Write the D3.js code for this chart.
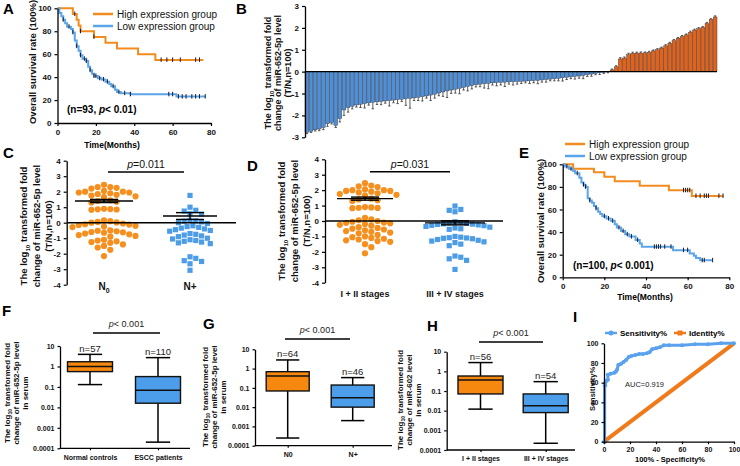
<!DOCTYPE html>
<html>
<head>
<meta charset="utf-8">
<script src="https://cdn.jsdelivr.net/npm/d3@7"></script>
<style>
  body { margin: 0; background: #fff; }
  text { font-family: Arial, "Liberation Sans", sans-serif; }
</style>
</head>
<body>
<svg id="fig" width="740" height="466"></svg>
<script>
// ---------- data ----------
// A: Kaplan-Meier, n=93  [time, survival%]
var kmAHigh = [[0,100],[8,95],[10,90],[11,85],[12,80],[19,75],[25,70],[31,65],[42,60],[51,55],[76,55]];
var kmAHighCens = [9, 12, 19, 54, 57, 60, 64, 72, 74];
var kmALow = [[0,100],[1,96],[2,93],[3,90],[4,87],[5,84],[7,82],[8,79],[9,72],[10,67],[11,63],[12,59],[13,56],[15,54],[16,49],[17,46],[18,43],[19,41],[21,39],[23,38],[25,36],[27,34],[28,32],[30,29],[31,27],[33,26],[38,25],[62,23],[77,23]];
var kmALowCens = [3, 6, 8, 10, 12, 14, 15, 17, 19, 20, 22, 24, 26, 29, 32, 35, 38, 58, 60, 63, 65, 67, 70, 72, 74, 77];

// E: Kaplan-Meier, n=100
var kmEHigh = [[0,100],[5,96],[15,93],[20,89],[25,85],[37,81],[51,77],[62,72],[77,72]];
var kmEHighCens = [58, 59, 60, 61, 64, 66, 68, 69, 70, 75, 77];
var kmELow = [[0,100],[1,98],[3,96],[5,94],[6,92],[8,88],[9,84],[10,82],[11,80],[12,70],[13,68],[14,66],[15,63],[16,61],[17,58],[18,56],[19,54],[21,52],[23,50],[25,47],[26,44],[28,41],[30,38],[32,36],[35,33],[37,30],[38,27],[53,24],[61,21],[63,19],[64,17],[66,15],[72,15]];
var kmELowCens = [2, 4, 7, 10, 11, 13, 16, 20, 22, 24, 27, 29, 31, 33, 36, 44, 45, 46, 47, 49, 52, 58, 60, 67, 68, 72];

// B: log10 fold change per patient (sorted), and error
var barVals = [-2.78,-2.72,-2.66,-2.62,-2.55,-2.38,-2.32,-2.45,-2.15,-1.75,-1.65,-1.58,-1.52,-1.49,-1.46,-1.43,-1.4,-1.38,-1.36,-1.34,
  -1.32,-1.3,-1.28,-1.26,-1.24,-1.22,-1.2,-1.17,-1.14,-1.11,-1.07,-1.03,-0.98,-0.93,-0.88,-0.84,-0.8,-0.76,-0.72,-0.68,
  -0.64,-0.6,-0.57,-0.55,-0.53,-0.51,-0.5,-0.49,-0.48,-0.47,-0.46,-0.45,-0.44,-0.43,-0.42,-0.41,-0.4,-0.38,-0.36,-0.34,
  -0.32,-0.3,-0.28,-0.26,-0.24,-0.22,-0.2,-0.17,-0.14,-0.11,-0.08,-0.05,-0.03,-0.01,
  0.08,0.22,0.58,0.62,0.78,0.84,0.85,0.85,0.86,0.88,0.95,1.0,1.08,1.18,1.3,1.42,1.52,1.6,1.68,1.8,1.9,1.96,2.02,2.2,2.38,2.5];
var barErr = [0.05,0.06,0.05,0.08,0.1,0.12,0.07,0.1,0.15,0.25,0.2,0.12,0.1,0.15,0.2,0.1,0.3,0.12,0.15,0.1,
  0.25,0.12,0.18,0.1,0.3,0.45,0.12,0.15,0.2,0.1,0.25,0.18,0.12,0.2,0.3,0.15,0.18,0.25,0.12,0.2,
  0.15,0.1,0.12,0.2,0.25,0.1,0.15,0.12,0.2,0.1,0.15,0.12,0.1,0.08,0.12,0.1,0.15,0.1,0.12,0.08,
  0.1,0.12,0.15,0.1,0.08,0.12,0.1,0.15,0.08,0.1,0.06,0.08,0.05,0.04,
  0.04,0.05,0.06,0.05,0.06,0.05,0.04,0.05,0.04,0.05,0.04,0.05,0.04,0.05,0.04,0.05,0.04,0.05,0.04,0.05,0.04,0.05,0.04,0.05,0.04,0.05];

// C: by lymph node status
var cGroups = ['N0', 'N+'];
var cN0 = [2.45,2.3,2.3,2.25,2.2,2.05,2.0,2.0,1.95,1.95,1.9,1.85,1.8,1.75,1.7,1.65,1.45,1.4,1.35,1.3,0.9,0.88,0.86,0.85,0.83,
  0.15,0.1,0.05,0.02,0.0,-0.05,-0.1,-0.12,-0.15,-0.2,-0.25,-0.28,-0.5,-0.52,-0.55,-0.6,-0.62,-0.65,-0.7,-0.75,-0.8,-0.85,-0.9,
  -1.1,-1.15,-1.2,-1.25,-1.3,-1.4,-1.5,-1.6,-1.75,-2.15];
var cNPlus = [1.76,1.0,0.8,0.75,0.58,0.55,0.15,0.12,0.1,0.05,0.0,-0.05,-0.2,-0.25,-0.3,-0.35,-0.4,-0.45,-0.5,-0.55,
  -0.7,-0.75,-0.8,-0.85,-0.9,-1.0,-1.05,-1.1,-1.15,-1.2,-1.25,-1.3,-1.35,-2.2,-2.3,-2.45,-2.5,-2.65,-3.07];
var cMean = [1.4, 0.43];
var cSem = [0.1, 0.22];

// D: by TNM stage
var dGroups = ['I + II stages', 'III + IV stages'];
var dEarly = [2.45,2.3,2.25,2.2,2.05,2.0,2.0,1.95,1.95,1.9,1.85,1.8,1.75,1.7,1.65,1.45,1.4,1.35,1.3,0.9,0.88,0.86,0.85,0.83,
  0.2,0.1,0.05,0.0,-0.05,-0.1,-0.12,-0.15,-0.2,-0.25,-0.3,-0.4,-0.45,-0.5,-0.55,-0.6,-0.65,-0.7,-0.75,-0.8,-0.9,
  -1.0,-1.05,-1.1,-1.15,-1.2,-1.25,-1.3,-1.35,-1.5,-1.7,-2.1];
var dLate = [0.97,0.75,0.69,0.6,-0.05,-0.1,-0.12,-0.15,-0.18,-0.2,-0.22,-0.25,-0.28,-0.3,-0.35,-0.4,-0.45,-0.5,-0.54,
  -1.0,-1.05,-1.08,-1.1,-1.12,-1.15,-1.2,-1.25,-1.3,-1.35,-1.4,-1.5,-1.6,-2.27,-2.35,-2.45,-2.55,-3.14];
var dMean = [1.45, -0.12];
var dSem = [0.1, 0.13];

// F, G, H: serum box plots  [min, q1, median, q3, max]
var fGroups = ['Normal controls', 'ESCC patients'];
var fN = [57, 110];
var fStats = [[0.13, 0.56, 1.0, 1.7, 3.9], [0.0002, 0.016, 0.069, 0.32, 2.7]];
var gGroups = ['N0', 'N+'];
var gN = [64, 46];
var gStats = [[0.00025, 0.069, 0.41, 0.69, 2.8], [0.002, 0.01, 0.031, 0.14, 0.34]];
var hGroups = ['I + II stages', 'III + IV stages'];
var hN = [56, 54];
var hStats = [[0.012, 0.071, 0.36, 0.58, 2.8], [0.00022, 0.008, 0.018, 0.071, 0.30]];
var logTicks = [0.0001, 0.001, 0.01, 0.1, 1, 10];

// I: ROC
var rocX = [0,0.5,0.5,1,1,2,3,3,5,8,9,10,11,13,15,17,19,21,24,27,30,33,35,37,40,43,46,50,60,70,80,90,100];
var rocY = [0,0,57,57,60,62,63,68,69,70,71,73,78,79,81,83,86,87,88,89,89,90,91,94,95,96,98,98,98,99,99,100,100];
var identX = [0, 100];
var identY = [0, 100];

// ---------- colours ----------
var ORANGE = '#f28c1e', BLUE = '#5ba5ea';
var BAR_OR = '#e2621c', BAR_BL = '#4f8fd8';
var DOT_OR = '#f5901f', DOT_BL = '#4d9de6';

var svg = d3.select('#fig');
svg.append('rect').attr('width', 740).attr('height', 466).attr('fill', '#fff');

// plain hyphen minus, like the original figure
var plain = function(d) { return String(d); };

function styleAxis(g, fs) {
  g.attr('font-family', null).attr('font-size', null);
  g.select('.domain').attr('stroke', '#000').attr('stroke-width', 1.3);
  g.selectAll('.tick line').attr('stroke', '#000').attr('stroke-width', 1.2);
  g.selectAll('.tick text').attr('font-size', fs).attr('font-weight', 'bold').attr('fill', '#111');
}

function letter(t, x, y) {
  svg.append('text').attr('x', x).attr('y', y).attr('font-size', 15).attr('font-weight', 'bold').text(t);
}

// rotated label, '_' toggles subscript
function rotLabel(lines, xs, cy, fs, weight) {
  lines.forEach(function(line, i) {
    var t = svg.append('text')
      .attr('transform', 'translate(' + xs[i] + ',' + cy + ') rotate(-90)')
      .attr('text-anchor', 'middle').attr('font-size', fs)
      .attr('font-weight', weight || 'bold').attr('fill', '#111');
    var parts = line.split('_');
    var shift = 0;
    parts.forEach(function(p, k) {
      if (!p.length) return;
      var sub = k % 2 === 1;
      var target = sub ? fs * 0.3 : 0;
      t.append('tspan').attr('dy', target - shift).attr('font-size', sub ? fs * 0.65 : fs).text(p);
      shift = target;
    });
  });
}

function stepAt(pts, t) {
  var s = pts[0][1];
  pts.forEach(function(p) { if (p[0] <= t) s = p[1]; });
  return s;
}

// ---------- Kaplan-Meier panels ----------
function kmPanel(cfg) {
  var x = d3.scaleLinear().domain([0, 80]).range([cfg.x0, cfg.x1]);
  var y = d3.scaleLinear().domain([0, 100]).range([cfg.yb, cfg.yt]);
  var g = svg.append('g');
  var line = d3.line().x(function(d) { return x(d[0]); }).y(function(d) { return y(d[1]); }).curve(d3.curveStepAfter);
  cfg.series.forEach(function(s) {
    g.append('path').datum(s.pts).attr('d', line).attr('fill', 'none')
      .attr('stroke', s.color).attr('stroke-width', 2);
    s.cens.forEach(function(t) {
      var v = stepAt(s.pts, t);
      g.append('line').attr('x1', x(t)).attr('x2', x(t)).attr('y1', y(v) - 2.5).attr('y2', y(v) + 2)
        .attr('stroke', '#1a1a2a').attr('stroke-width', 1);
    });
  });
  var ax = g.append('g').attr('transform', 'translate(0,' + cfg.yb + ')')
    .call(d3.axisBottom(x).tickValues([0, 20, 40, 60, 80]).tickFormat(plain).tickSize(3).tickSizeOuter(0));
  styleAxis(ax, 8);
  var ay = g.append('g').attr('transform', 'translate(' + cfg.x0 + ',0)')
    .call(d3.axisLeft(y).tickValues([0, 20, 40, 60, 80, 100]).tickFormat(plain).tickSize(3).tickSizeOuter(0));
  styleAxis(ay, 8);
  // legend
  cfg.series.forEach(function(s, i) {
    var ly = cfg.legY + i * 12;
    g.append('line').attr('x1', cfg.legX).attr('x2', cfg.legX + 20).attr('y1', ly).attr('y2', ly)
      .attr('stroke', s.color).attr('stroke-width', 2.5);
    g.append('text').attr('x', cfg.legX + 24).attr('y', ly + 3.5).attr('font-size', 10).attr('fill', '#111').text(s.name);
  });
  var ann = g.append('text').attr('x', cfg.annX).attr('y', cfg.annY).attr('font-size', 10)
    .attr('font-family', '"Liberation Serif", "Times New Roman", serif').attr('font-weight', 'bold');
  ann.append('tspan').text(cfg.annText[0]);
  ann.append('tspan').attr('font-style', 'italic').text('p');
  ann.append('tspan').text(cfg.annText[1]);
  g.append('text').attr('x', cfg.tx).attr('y', cfg.ty).attr('text-anchor', 'middle')
    .attr('font-size', 8.5).attr('font-weight', 'bold').text('Time(Months)');
  rotLabel(['Overall survival rate (100%)'], [cfg.ylx], cfg.yly, 9.5, 'bold');
}

kmPanel({
  x0: 57.5, x1: 211, yb: 123, yt: 8.3,
  series: [
    { name: 'High expression group', pts: kmAHigh, cens: kmAHighCens, color: ORANGE },
    { name: 'Low expression group', pts: kmALow, cens: kmALowCens, color: BLUE }
  ],
  legX: 93, legY: 14, annX: 67, annY: 113, annText: ['(n=93, ', '< 0.01)'],
  tx: 112, ty: 148, ylx: 36, yly: 62
});

kmPanel({
  x0: 562.7, x1: 729.3, yb: 277.3, yt: 164.3,
  series: [
    { name: 'High expression group', pts: kmEHigh, cens: kmEHighCens, color: ORANGE },
    { name: 'Low expression group', pts: kmELow, cens: kmELowCens, color: BLUE }
  ],
  legX: 565, legY: 144, annX: 573, annY: 269, annText: ['(n=100, ', '< 0.001)'],
  tx: 645, ty: 300, ylx: 544, yly: 221
});

// ---------- B: waterfall bars ----------
(function() {
  var x = d3.scaleBand().domain(d3.range(barVals.length)).range([305, 717]).paddingInner(0.1);
  var y = d3.scaleLinear().domain([-3, 3]).range([137.3, 6]);
  var g = svg.append('g');
  function tip(d, i) { return y(d + (d < 0 ? -barErr[i] : barErr[i])); }
  function mid(d, i) { return x(i) + x.bandwidth() / 2; }
  g.selectAll('line.err').data(barVals).enter().append('line')
    .attr('x1', mid).attr('x2', mid)
    .attr('y1', function(d) { return y(d); }).attr('y2', tip)
    .attr('stroke', '#333').attr('stroke-width', 0.8);
  g.selectAll('line.cap').data(barVals).enter().append('line')
    .attr('x1', function(d, i) { return mid(d, i) - 1.2; })
    .attr('x2', function(d, i) { return mid(d, i) + 1.2; })
    .attr('y1', tip).attr('y2', tip)
    .attr('stroke', '#333').attr('stroke-width', 0.8);
  g.selectAll('rect').data(barVals).enter().append('rect')
    .attr('x', function(d, i) { return x(i); })
    .attr('width', x.bandwidth())
    .attr('y', function(d) { return y(Math.max(0, d)); })
    .attr('height', function(d) { return Math.abs(y(d) - y(0)); })
    .attr('fill', function(d) { return d < 0 ? BAR_BL : BAR_OR; })
    .attr('stroke', '#2a2a2a').attr('stroke-width', 0.4);
  g.append('line').attr('x1', 305).attr('x2', 717).attr('y1', y(0)).attr('y2', y(0))
    .attr('stroke', '#000').attr('stroke-width', 1.2);
  var ay = g.append('g').attr('transform', 'translate(305,0)')
    .call(d3.axisLeft(y).tickValues([-3, -2, -1, 0, 1, 2, 3]).tickFormat(plain).tickSize(3).tickSizeOuter(0));
  styleAxis(ay, 8);
  rotLabel(['The log_10_ transformed fold', 'change of miR-652-5p level', '(T/N,n=100)'], [271, 281, 291], 73, 9);
})();

// ---------- C, D: scatter with mean ± SEM ----------
function swarm(vals, cx, y, d) {
  var placed = [];
  vals.slice().sort(function(a, b) { return b - a; }).forEach(function(v) {
    var py = y(v);
    for (var k = 0; k < 80; k++) {
      var off = (k % 2 ? 1 : -1) * Math.ceil(k / 2) * d * 0.5;
      var px = cx + off;
      var ok = placed.every(function(p) { return (p.x - px) * (p.x - px) + (p.y - py) * (p.y - py) >= d * d * 0.92; });
      if (ok) { placed.push({ x: px, y: py }); break; }
    }
  });
  return placed;
}

function scatterPanel(cfg) {
  var x = d3.scalePoint().domain(cfg.groups).range(cfg.centers);
  var y = d3.scaleLinear().domain([-4, 4]).range([cfg.yb, cfg.yt]);
  var g = svg.append('g');
  var p0 = swarm(cfg.vals[0], x(cfg.groups[0]), y, 6.3);
  g.selectAll('circle').data(p0).enter().append('circle')
    .attr('cx', function(d) { return d.x; }).attr('cy', function(d) { return d.y; })
    .attr('r', 3.1).attr('fill', DOT_OR);
  var p1 = swarm(cfg.vals[1], x(cfg.groups[1]), y, 5.8);
  g.selectAll('rect.sq').data(p1).enter().append('rect')
    .attr('x', function(d) { return d.x - 2.6; }).attr('y', function(d) { return d.y - 2.6; })
    .attr('width', 5.2).attr('height', 5.2).attr('fill', DOT_BL);
  // zero line
  g.append('line').attr('x1', cfg.axisX).attr('x2', cfg.zeroEnd).attr('y1', y(0)).attr('y2', y(0))
    .attr('stroke', '#000').attr('stroke-width', 1.4);
  // mean and SEM
  cfg.groups.forEach(function(gr, i) {
    var cx = x(gr);
    g.append('line').attr('x1', cx - cfg.meanW[i]).attr('x2', cx + cfg.meanW[i])
      .attr('y1', y(cfg.mean[i])).attr('y2', y(cfg.mean[i])).attr('stroke', '#000').attr('stroke-width', 1.4);
    g.append('line').attr('x1', cx).attr('x2', cx)
      .attr('y1', y(cfg.mean[i] - cfg.sem[i])).attr('y2', y(cfg.mean[i] + cfg.sem[i]))
      .attr('stroke', '#000').attr('stroke-width', 1.4);
    [-1, 1].forEach(function(s) {
      var v = cfg.mean[i] + s * cfg.sem[i];
      g.append('line').attr('x1', cx - 14).attr('x2', cx + 14).attr('y1', y(v)).attr('y2', y(v))
        .attr('stroke', '#000').attr('stroke-width', 1.4);
    });
  });
  var ay = g.append('g').attr('transform', 'translate(' + cfg.axisX + ',0)')
    .call(d3.axisLeft(y).tickValues(d3.range(-4, 5)).tickFormat(plain).tickSize(3).tickSizeOuter(0));
  styleAxis(ay, 8);
  // group labels
  cfg.groups.forEach(function(gr, i) {
    var t = g.append('text').attr('x', x(gr)).attr('y', cfg.labY).attr('text-anchor', 'middle')
      .attr('font-size', cfg.labFs).attr('font-weight', 'bold').attr('fill', '#111');
    if (cfg.subLabel && i === 0) {
      t.append('tspan').text('N');
      t.append('tspan').attr('font-size', cfg.labFs * 0.7).attr('dy', 3).text('0');
    } else {
      t.text(gr);
    }
  });
  // significance bar
  g.append('line').attr('x1', cfg.pBar[0]).attr('x2', cfg.pBar[1]).attr('y1', cfg.pBar[2]).attr('y2', cfg.pBar[2])
    .attr('stroke', '#000').attr('stroke-width', 1.4);
  var pt = g.append('text').attr('x', (cfg.pBar[0] + cfg.pBar[1]) / 2).attr('y', cfg.pBar[2] - 4)
    .attr('text-anchor', 'middle').attr('font-size', 10.5).attr('fill', '#111');
  pt.append('tspan').attr('font-style', 'italic').text('p');
  pt.append('tspan').text(cfg.pText);
  rotLabel(['The log_10_ transformed fold', 'change of miR-652-5p level', '(T/N,n=100)'], cfg.ylx, cfg.yly, 9.5);
}

scatterPanel({
  groups: cGroups, vals: [cN0, cNPlus], centers: [104, 190], yb: 284.7, yt: 160.7,
  axisX: 66.7, zeroEnd: 236, mean: cMean, sem: cSem, meanW: [29, 27],
  labY: 290, labFs: 10, subLabel: true, pBar: [108, 184, 172], pText: '=0.011',
  ylx: [27, 40, 52], yly: 226
});

scatterPanel({
  groups: dGroups, vals: [dEarly, dLate], centers: [365, 455], yb: 282.7, yt: 159.3,
  axisX: 325, zeroEnd: 503, mean: dMean, sem: dSem, meanW: [28, 30],
  labY: 297, labFs: 9, subLabel: false, pBar: [370, 450, 171.7], pText: '=0.031',
  ylx: [285, 298, 310], yly: 221
});

// ---------- F, G, H: box plots on log scale ----------
function boxPanel(cfg) {
  var x = d3.scalePoint().domain(cfg.groups).range(cfg.centers);
  var y = d3.scaleLog().domain([0.0001, 10]).range([cfg.yb, cfg.yt]);
  var g = svg.append('g');
  var w = cfg.boxW;
  cfg.groups.forEach(function(gr, i) {
    var s = cfg.stats[i], cx = x(gr);
    g.append('line').attr('x1', cx).attr('x2', cx).attr('y1', y(s[0])).attr('y2', y(s[4]))
      .attr('stroke', '#000').attr('stroke-width', 1.5);
    [s[0], s[4]].forEach(function(v) {
      g.append('line').attr('x1', cx - w * 0.27).attr('x2', cx + w * 0.27).attr('y1', y(v)).attr('y2', y(v))
        .attr('stroke', '#000').attr('stroke-width', 1.5);
    });
    g.append('rect').attr('x', cx - w / 2).attr('width', w).attr('y', y(s[3])).attr('height', y(s[1]) - y(s[3]))
      .attr('fill', i === 0 ? '#f7880f' : '#4c9eea').attr('stroke', '#111').attr('stroke-width', 1.4);
    g.append('line').attr('x1', cx - w / 2).attr('x2', cx + w / 2).attr('y1', y(s[2])).attr('y2', y(s[2]))
      .attr('stroke', '#111').attr('stroke-width', 1.5);
    g.append('text').attr('x', cx).attr('y', y(s[4]) - 2.5).attr('text-anchor', 'middle')
      .attr('font-size', 9.5).attr('fill', '#222').text('n=' + cfg.n[i]);
  });
  var ax = g.append('g').attr('transform', 'translate(0,' + cfg.yb + ')')
    .call(d3.axisBottom(x).tickSize(2).tickSizeOuter(0));
  ax.select('.domain').attr('d', 'M' + cfg.axisX + ',0H' + cfg.xEnd);
  styleAxis(ax, 7);
  ax.selectAll('.tick text').attr('dy', '0.9em');
  var ay = g.append('g').attr('transform', 'translate(' + cfg.axisX + ',0)')
    .call(d3.axisLeft(y).tickValues(logTicks).tickFormat(d3.format('~g')).tickSize(2.5).tickSizeOuter(0));
  styleAxis(ay, 7);
  g.append('line').attr('x1', cfg.pBar[0]).attr('x2', cfg.pBar[1]).attr('y1', cfg.pBar[2]).attr('y2', cfg.pBar[2])
    .attr('stroke', '#000').attr('stroke-width', 1.4);
  var pt = g.append('text').attr('x', (cfg.pBar[0] + cfg.pBar[1]) / 2).attr('y', cfg.pBar[2] - 6)
    .attr('text-anchor', 'middle').attr('font-size', 9).attr('fill', '#222');
  pt.append('tspan').attr('font-style', 'italic').text('p');
  pt.append('tspan').text('< 0.001');
  rotLabel(['The log_10_ transformed fold', cfg.label2, 'in serum'], cfg.ylx, cfg.yly, 8);
}

boxPanel({
  groups: fGroups, n: fN, stats: fStats, centers: [90, 158], boxW: 45, yb: 448.3, yt: 346,
  axisX: 60, xEnd: 190, pBar: [93, 160, 333], label2: 'change of miR-652-5p level',
  ylx: [10, 19, 28], yly: 393
});
boxPanel({
  groups: gGroups, n: gN, stats: gStats, centers: [287.7, 352.7], boxW: 43, yb: 445.7, yt: 349.3,
  axisX: 255, xEnd: 392, pBar: [285, 350, 339], label2: 'change of miR-652-5p level',
  ylx: [208, 217, 226], yly: 397
});
boxPanel({
  groups: hGroups, n: hN, stats: hStats, centers: [480.5, 545.7], boxW: 45, yb: 450, yt: 351.7,
  axisX: 446.7, xEnd: 575, pBar: [479, 543, 342], label2: 'change of miR-602 level',
  ylx: [403, 412, 421], yly: 400
});

// ---------- I: ROC ----------
(function() {
  var x = d3.scaleLinear().domain([0, 100]).range([604, 734]);
  var y = d3.scaleLinear().domain([0, 100]).range([441.7, 343.3]);
  var g = svg.append('g');
  var line = d3.line().x(function(d) { return x(d[0]); }).y(function(d) { return y(d[1]); });
  g.append('path').datum(d3.zip(identX, identY)).attr('d', line).attr('fill', 'none')
    .attr('stroke', '#f07a1a').attr('stroke-width', 4);
  var roc = d3.zip(rocX, rocY);
  g.append('path').datum(roc).attr('d', line).attr('fill', 'none')
    .attr('stroke', '#5aa2ee').attr('stroke-width', 3);
  g.selectAll('circle').data(roc).enter().append('circle')
    .attr('cx', function(d) { return x(d[0]); }).attr('cy', function(d) { return y(d[1]); })
    .attr('r', 2).attr('fill', '#5aa2ee');
  var ax = g.append('g').attr('transform', 'translate(0,441.7)')
    .call(d3.axisBottom(x).tickValues([0, 20, 40, 60, 80, 100]).tickFormat(plain).tickSize(2.5).tickSizeOuter(0));
  styleAxis(ax, 7);
  var ay = g.append('g').attr('transform', 'translate(604,0)')
    .call(d3.axisLeft(y).tickValues([0, 20, 40, 60, 80, 100]).tickFormat(plain).tickSize(2.5).tickSizeOuter(0));
  styleAxis(ay, 7);
  g.append('text').attr('x', 625).attr('y', 387).attr('font-size', 7.5).attr('fill', '#222').text('AUC=0.919');
  g.append('text').attr('x', 670).attr('y', 462).attr('text-anchor', 'middle').attr('font-size', 7.5)
    .attr('font-weight', 'bold').text('100% - Specificity%');
  rotLabel(['Sensitivity%'], [595], 389, 7.5);
  // legend
  g.append('line').attr('x1', 605).attr('x2', 617).attr('y1', 333).attr('y2', 333).attr('stroke', '#5aa2ee').attr('stroke-width', 2.5);
  g.append('circle').attr('cx', 611).attr('cy', 333).attr('r', 2.5).attr('fill', '#5aa2ee');
  g.append('text').attr('x', 620).attr('y', 336).attr('font-size', 8).attr('font-weight', 'bold').text('Sensitivity%');
  g.append('line').attr('x1', 674).attr('x2', 686).attr('y1', 333).attr('y2', 333).attr('stroke', '#f07a1a').attr('stroke-width', 2.5);
  g.append('rect').attr('x', 677.5).attr('y', 330.5).attr('width', 5).attr('height', 5).attr('fill', '#f07a1a');
  g.append('text').attr('x', 689).attr('y', 336).attr('font-size', 8).attr('font-weight', 'bold').text('Identity%');
})();

// panel letters
letter('A', 3, 14);
letter('B', 236, 14);
letter('C', 3, 158);
letter('D', 247, 171);
letter('E', 519, 158);
letter('F', 2, 316);
letter('G', 203, 329);
letter('H', 427, 331);
letter('I', 573, 322);
</script>
</body>
</html>
